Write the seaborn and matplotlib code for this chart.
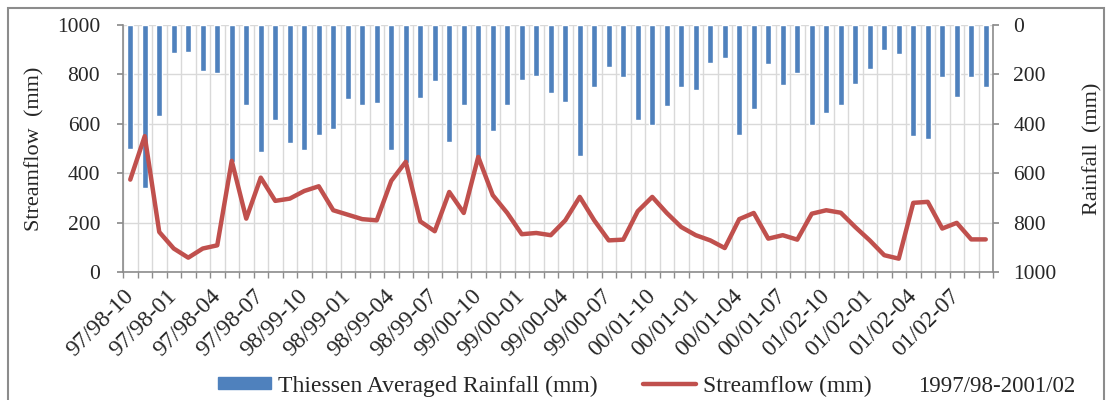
import numpy as np
import pandas as pd
import matplotlib
matplotlib.use("Agg")
import matplotlib.pyplot as plt
import seaborn as sns
from matplotlib.patches import Rectangle, Patch
from matplotlib.lines import Line2D

# ---- data ----
years = ["97/98", "98/99", "99/00", "00/01", "01/02"]
months = ["10", "11", "12", "01", "02", "03", "04", "05", "06", "07", "08", "09"]
periods = [f"{y}-{m}" for y in years for m in months]

rainfall = [500, 660, 369, 114, 108, 186, 196, 555, 322, 515, 384, 478, 508, 447, 420,
            301, 322, 316, 508, 560, 296, 228, 472, 322, 540, 431, 322, 223, 207, 274,
            311, 530, 249, 170, 212, 384, 405, 327, 249, 265, 155, 135, 447, 342, 159,
            243, 196, 405, 358, 322, 238, 180, 103, 119, 451, 462, 212, 291, 212, 249]

streamflow = [374, 550, 162, 95, 58, 95, 108, 450, 216, 382, 288, 297, 328, 347, 250,
              232, 214, 209, 369, 446, 205, 165, 324, 239, 466, 311, 239, 153, 158, 149,
              209, 304, 209, 128, 131, 246, 304, 239, 182, 149, 128, 97, 214, 239, 135,
              149, 131, 236, 250, 240, 182, 128, 68, 54, 280, 284, 176, 199, 132, 132]

label_step = 3
tick_labels = periods[::label_step]

BLUE = "#4F81BD"
RED = "#C0504D"
GRID = "#d9d9d9"
AXC = "#8c8c8c"

df = pd.DataFrame({"period": periods, "rain": rainfall, "flow": streamflow})

sns.set_theme(style="white")
plt.rcParams["font.family"] = ["Liberation Serif", "DejaVu Serif"]

fig = plt.figure(figsize=(11.06, 4.0), dpi=100)
ax_r = fig.add_axes([123 / 1106, 1 - 272 / 400, 870 / 1106, 247 / 400])

sns.barplot(data=df, x="period", y="rain", ax=ax_r, color=BLUE, saturation=1,
            width=0.4, errorbar=None)
ax_r.set_ylim(1000, 0)
ax_r.set_xlim(-0.5, len(periods) - 0.5)

ax_l = ax_r.twinx()
sns.lineplot(x=np.arange(len(df)), y=df["flow"], ax=ax_l, color=RED, linewidth=3.2)
ax_l.set_ylim(0, 1000)
ax_l.set_xlim(-0.5, len(periods) - 0.5)

# swap sides: streamflow left, rainfall right
ax_r.yaxis.tick_right()
ax_r.yaxis.set_label_position("right")
ax_l.yaxis.tick_left()
ax_l.yaxis.set_label_position("left")

FS = 15.5
ax_r.set_yticks(np.arange(0, 1001, 200))
ax_l.set_yticks(np.arange(0, 1001, 200))
ax_r.tick_params(axis="y", which="major", direction="out", length=4.5, color=AXC,
                 labelsize=FS, pad=10, right=True, left=False)
ax_l.tick_params(axis="y", which="major", direction="out", length=4.5, color=AXC,
                 labelsize=FS, pad=12, left=True, right=False)

ax_r.set_xticks(np.arange(0, len(periods), label_step))
ax_r.set_xticklabels(tick_labels, rotation=45, ha="right", va="center",
                     rotation_mode="anchor", fontsize=17)
ax_r.set_xticks(np.arange(-0.5, len(periods), 1), minor=True)
ax_r.tick_params(axis="x", which="major", length=0, pad=15)
ax_r.tick_params(axis="x", which="minor", direction="out", length=4.5, color=AXC,
                 bottom=True)

ax_r.grid(which="minor", axis="x", color=GRID, linewidth=1)
ax_r.grid(which="major", axis="y", color=GRID, linewidth=1)
ax_r.set_axisbelow(True)

for s in ["left", "right", "bottom"]:
    ax_r.spines[s].set_visible(True)
    ax_r.spines[s].set_color(AXC)
    ax_r.spines[s].set_linewidth(1.2)
ax_r.spines["top"].set_visible(False)
for s in ax_l.spines.values():
    s.set_visible(False)

ax_r.set_xlabel("")
ax_l.set_xlabel("")
ax_l.set_ylabel("Streamflow  (mm)", fontsize=16, labelpad=9)
ax_r.set_ylabel("Rainfall  (mm)", fontsize=16, labelpad=19)

handles = [Patch(facecolor=BLUE, edgecolor=BLUE), Line2D([], [], color=RED, linewidth=3.2)]
labels = ["Thiessen Averaged Rainfall (mm)", "Streamflow (mm)"]
fig.legend(handles, labels, loc="center left", bbox_to_anchor=(218 / 1106, 1 - 386 / 400),
           ncol=2, frameon=False, fontsize=17, borderaxespad=0, borderpad=0,
           handlelength=2.25, handletextpad=0.3, columnspacing=1.9, handleheight=0.42)
fig.text(918 / 1106, 1 - 387 / 400, "1997/98-2001/02", fontsize=16.5, ha="left", va="center")

border = Rectangle((8 / 1106, -0.1), 1096 / 1106, 1.1 - 8 / 400, transform=fig.transFigure,
                   fill=False, edgecolor=AXC, linewidth=1.5, zorder=-1)
fig.patches.append(border)

fig.savefig("out.png", dpi=100)
